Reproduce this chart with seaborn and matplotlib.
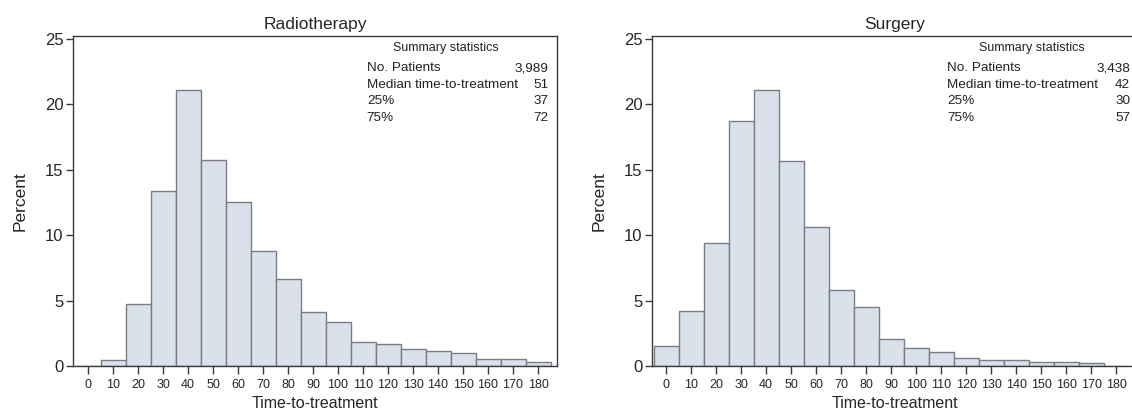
import matplotlib
matplotlib.use('Agg')
import matplotlib.pyplot as plt
import seaborn as sns

# bin centres (days) and percent of patients per bin
bins = list(range(0, 190, 10))
radio_pct = [0, 0.48, 4.7, 13.37, 21.05, 15.71, 12.55, 8.75, 6.68, 4.1,
             3.39, 1.86, 1.66, 1.28, 1.12, 1.0, 0.51, 0.56, 0.28]
surg_pct = [1.56, 4.23, 9.36, 18.72, 21.05, 15.66, 10.61, 5.77, 4.49, 2.04,
            1.40, 1.10, 0.64, 0.48, 0.48, 0.33, 0.28, 0.20, 0]

titles = ['Radiotherapy', 'Surgery']
stat_labels = ['No. Patients', 'Median time-to-treatment', '25%', '75%']
radio_stats = ['3,989', '51', '37', '72']
surg_stats = ['3,438', '42', '30', '57']

sns.set_style('white')
plt.rcParams['font.family'] = ['Liberation Sans', 'DejaVu Sans']

fig = plt.figure(figsize=(11.32, 4.15), dpi=100)
# right panel runs slightly past the image edge, as in the original
axes = [fig.add_axes([0.0645, 0.118, 0.4276, 0.795]),
        fig.add_axes([0.576, 0.118, 0.4285, 0.795])]
xlims = [(-6, 187.6), (-5.6, 188.4)]

fill = '#dbe1eb'
edge = '#787d86'
spine_col = '#3a3a3a'

panels = [(radio_pct, radio_stats, (0.607, 0.983, 0.771)),
          (surg_pct, surg_stats, (0.608, 0.986, 0.784))]

for ax, title, xl_, (pct, stats, (xl, xr, xc)) in zip(axes, titles, xlims, panels):
    sns.histplot(x=bins, weights=pct, binwidth=10, binrange=(-5, 185),
                 color=fill, edgecolor=edge, linewidth=1.0, alpha=1,
                 ax=ax)
    ax.set_xlim(*xl_)
    ax.set_ylim(0, 25.2)
    ax.set_xticks(bins)
    ax.set_yticks([0, 5, 10, 15, 20, 25])
    ax.tick_params(axis='x', labelsize=9, length=6, width=1, color=spine_col,
                   direction='out', bottom=True, pad=3)
    ax.tick_params(axis='y', labelsize=12, length=5, width=1, color=spine_col,
                   direction='out', left=True, pad=2)
    for s in ax.spines.values():
        s.set_color(spine_col)
        s.set_linewidth(1.0)
    ax.set_title(title, fontsize=12.5, pad=5)
    ax.set_ylabel('Percent', fontsize=12.5, labelpad=12)
    ax.set_xlabel('Time-to-treatment', fontsize=11.5, labelpad=4)

    ax.text(xc, 0.964, 'Summary statistics', transform=ax.transAxes,
            ha='center', va='center', fontsize=9, color='#222222')
    ys = [0.903, 0.853, 0.803, 0.752]
    for y, lab, val in zip(ys, stat_labels, stats):
        ax.text(xl, y, lab, transform=ax.transAxes, ha='left', va='center',
                fontsize=9.7, color='#222222')
        ax.text(xr, y, val, transform=ax.transAxes, ha='right', va='center',
                fontsize=9.7, color='#222222')

fig.savefig('out.png', dpi=100)
